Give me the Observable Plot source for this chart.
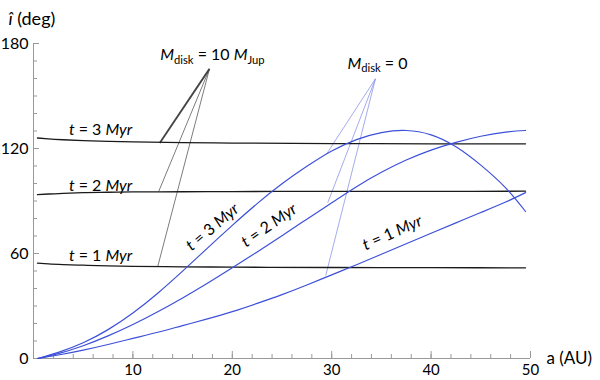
<!DOCTYPE html>
<html><head><meta charset="utf-8">
<script src="https://cdn.jsdelivr.net/npm/d3@7"></script>
<script src="https://cdn.jsdelivr.net/npm/@observablehq/plot@0.6"></script>
<style>
body{margin:0;background:#fff;}
#chart svg{font-family:Lato,"Open Sans",sans-serif;}
</style></head><body><div id="chart"></div>
<script>
// semi-major axis samples (AU) and inclinations (deg)
const blackA = [0.4, 1.5, 3, 5, 7.5, 10, 15, 20, 30, 40, 49.5];
const black1Myr = [54.5, 54.1, 53.7, 53.3, 52.9, 52.7, 52.4, 52.2, 52.0, 51.9, 51.8];
const black2Myr = [93.6, 94.0, 94.4, 94.8, 95.0, 95.2, 95.3, 95.4, 95.5, 95.5, 95.6];
const black3Myr = [126.0, 125.5, 125.0, 124.5, 124.1, 123.8, 123.4, 123.1, 122.8, 122.7, 122.7];

const blueA = [0.4, 2.5, 5, 7.5, 10, 12.5, 15, 17.5, 20, 22.5, 25, 27.5, 30, 32.5, 35, 37.5, 40, 42.5, 45, 47.5, 49.5];
const blue1Myr = [0, 2, 4.8, 8, 11.5, 15, 18.8, 22.6, 26.8, 31.5, 36.5, 42, 47.8, 53.6, 59.6, 65.6, 71.6, 77.5, 83.4, 89.4, 94.8];
const blue2Myr = [0, 2.8, 7.3, 12.9, 19.4, 26.7, 34.6, 43, 51.8, 60.9, 70.2, 79.6, 89, 98.2, 106.4, 113.4, 119.1, 123.5, 127, 129.4, 130.3];
const blue3Myr = [0, 3.5, 9, 16.5, 26, 37.3, 49.9, 63.1, 76.1, 88.5, 99.8, 109.8, 118.6, 125.1, 129.1, 130.3, 127.8, 121, 110.5, 97.5, 84];

// ticks
const xMajor = [10, 20, 30, 40, 50];
const xMinor = d3.range(2, 51, 2);
const yMajor = [0, 60, 120, 180];
const yMinor = d3.range(10, 181, 10);

// annotations (data coordinates)
const timeLabels = ["*t* = 1 *Myr*", "*t* = 2 *Myr*", "*t* = 3 *Myr*"];
const flatLabelA = [6.75, 6.75, 6.75];
const flatLabelI = [56, 96, 128];
const slopeLabelA = [36.1, 23.7, 18.0];
const slopeLabelI = [71.7, 76, 75];
const slopeLabelRot = [-24, -35, -40];

const noteLabels = ["*M*_{disk} = 10 *M*_{Jup}", "*M*_{disk} = 0"];
const noteA = [18.0, 34.6];
const noteI = [170.3, 165.5];
const apexA = [17.7, 34.4];
const apexI = [165.5, 159.8];
const leadMassiveA = [12.5, 12.6, 12.7];
const leadMassiveI = [52.6, 95.5, 123.2];
const leadZeroA = [29.4, 29.6, 29.5];
const leadZeroI = [47.4, 89, 117];

const xTitle = "a (AU)";
const yTitle = "*î* (deg)";

const series = (xs, ys) => xs.map((a, k) => ({a, i: ys[k]}));
const BLACK = "#1a1a1a", BLUE = "#3d50d8";
const innerW = 600 - 33 - 70, innerH = 380 - 43 - 22;

const massiveLeads = leadMassiveA.map((a, k) => ({x1: apexA[0], y1: apexI[0], x2: a, y2: leadMassiveI[k], thick: k === 2}));
const zeroLeads = leadZeroA.map((a, k) => ({x1: apexA[1], y1: apexI[1], x2: a, y2: leadZeroI[k]}));

const plot = Plot.plot({
  width: 600, height: 380,
  marginLeft: 33, marginRight: 70, marginTop: 43, marginBottom: 22,
  x: {domain: [0, 50]},
  y: {domain: [0, 180]},
  style: {fontFamily: "Lato, 'Open Sans', sans-serif", background: "white", color: "black"},
  marks: [
    Plot.ruleX([0], {y1: 0, y2: 180, stroke: "#999", strokeWidth: 1}),
    Plot.ruleY([0], {x1: 0, x2: 50, stroke: "#999", strokeWidth: 1}),
    Plot.tickY(yMinor, {y: d => d, insetRight: innerW - 4, stroke: "#999"}),
    Plot.tickY(yMajor, {y: d => d, insetRight: innerW - 6, stroke: "#999"}),
    Plot.tickX(xMinor, {x: d => d, insetTop: innerH - 4, stroke: "#999"}),
    Plot.tickX(xMajor, {x: d => d, insetTop: innerH - 7, stroke: "#999"}),
    Plot.axisX(xMajor, {tickSize: 0, tickPadding: 6, fontSize: 15, label: null}),
    Plot.axisY(yMajor, {tickSize: 0, tickPadding: 5, fontSize: 16, label: null}),
    Plot.text([xTitle], {frameAnchor: "bottom-right", dx: 16, textAnchor: "start", lineAnchor: "middle", fontSize: 17}),
    Plot.text([yTitle], {frameAnchor: "top-left", dx: -25, dy: -19, textAnchor: "start", lineAnchor: "bottom", fontSize: 18}),

    // leaders
    Plot.link(massiveLeads, {x1: "x1", y1: "y1", x2: "x2", y2: "y2", stroke: "#444", strokeWidth: d => d.thick ? 1.8 : 0.7}),
    Plot.link(zeroLeads, {x1: "x1", y1: "y1", x2: "x2", y2: "y2", stroke: "#8d95e8", strokeWidth: 0.8}),

    // curves
    Plot.line(series(blackA, black1Myr), {x: "a", y: "i", stroke: BLACK, strokeWidth: 1.3, curve: "monotone-x"}),
    Plot.line(series(blackA, black2Myr), {x: "a", y: "i", stroke: BLACK, strokeWidth: 1.3, curve: "monotone-x"}),
    Plot.line(series(blackA, black3Myr), {x: "a", y: "i", stroke: BLACK, strokeWidth: 1.3, curve: "monotone-x"}),
    Plot.line(series(blueA, blue1Myr), {x: "a", y: "i", stroke: BLUE, strokeWidth: 1.2, curve: "natural"}),
    Plot.line(series(blueA, blue2Myr), {x: "a", y: "i", stroke: BLUE, strokeWidth: 1.2, curve: "natural"}),
    Plot.line(series(blueA, blue3Myr), {x: "a", y: "i", stroke: BLUE, strokeWidth: 1.2, curve: "natural"}),

    // labels
    Plot.text(timeLabels, {x: (d, k) => flatLabelA[k], y: (d, k) => flatLabelI[k], text: d => d, textAnchor: "middle", lineAnchor: "bottom", fontSize: 16}),
    ...timeLabels.map((t, k) => Plot.text([t], {x: slopeLabelA[k], y: slopeLabelI[k], text: d => d, rotate: slopeLabelRot[k], textAnchor: "middle", lineAnchor: "middle", fontSize: 16})),
    Plot.text(noteLabels, {x: (d, k) => noteA[k], y: (d, k) => noteI[k], text: d => d, textAnchor: "middle", lineAnchor: "bottom", fontSize: 16})
  ]
});

// rich text: *italic* and _{subscript}
const NS = "http://www.w3.org/2000/svg";
plot.querySelectorAll("text").forEach(el => {
  const s = el.textContent;
  if (!/[*]|_\{/.test(s)) return;
  let fs = 15;
  for (let n = el; n && n.getAttribute; n = n.parentNode) {
    const v = n.getAttribute("font-size");
    if (v) { fs = parseFloat(v); break; }
  }
  while (el.firstChild) el.removeChild(el.firstChild);
  const re = /\*([^*]+)\*|_\{([^}]+)\}|([^*_]+)/g;
  let m, lowered = false;
  while ((m = re.exec(s))) {
    const t = document.createElementNS(NS, "tspan");
    if (m[2]) {
      t.textContent = m[2];
      t.setAttribute("font-size", fs * 0.7);
      t.setAttribute("dy", fs * 0.2);
      lowered = true;
    } else {
      t.textContent = m[1] || m[3];
      if (m[1]) t.setAttribute("font-style", "italic");
      if (lowered) { t.setAttribute("dy", -fs * 0.2); lowered = false; }
    }
    el.appendChild(t);
  }
});
document.getElementById("chart").appendChild(plot);
</script></body></html>
